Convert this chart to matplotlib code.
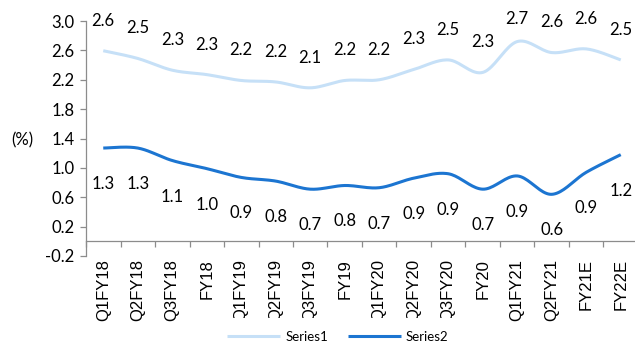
import numpy as np
import matplotlib
matplotlib.use("Agg")
import matplotlib.pyplot as plt
from matplotlib.transforms import Bbox

periods = ["Q1FY18", "Q2FY18", "Q3FY18", "FY18", "Q1FY19", "Q2FY19", "Q3FY19", "FY19",
           "Q1FY20", "Q2FY20", "Q3FY20", "FY20", "Q1FY21", "Q2FY21", "FY21E", "FY22E"]
series1 = [2.595, 2.49, 2.33, 2.27, 2.19, 2.17, 2.09, 2.19,
           2.20, 2.34, 2.47, 2.30, 2.72, 2.57, 2.62, 2.47]
series2 = [1.27, 1.27, 1.10, 0.99, 0.87, 0.82, 0.71, 0.76,
           0.73, 0.86, 0.92, 0.71, 0.89, 0.64, 0.94, 1.18]
yticks = [-0.2, 0.2, 0.6, 1.0, 1.4, 1.8, 2.2, 2.6, 3.0]

c1 = "#C6E0F7"
c2 = "#1C75D1"
num_font = "Lato"
cat_font = "Liberation Sans"


def smooth(xs, ys, n=20):
    # bezier smoothing through the points, like a spreadsheet "smoothed line"
    xs = np.asarray(xs, float)
    ys = np.asarray(ys, float)
    px = np.concatenate([[xs[0]], xs, [xs[-1]]])
    py = np.concatenate([[ys[0]], ys, [ys[-1]]])
    out_x, out_y = [], []
    t = np.linspace(0, 1, n, endpoint=False)
    for i in range(1, len(px) - 2):
        p0 = np.array([px[i], py[i]])
        p3 = np.array([px[i + 1], py[i + 1]])
        k1 = p0 + (np.array([px[i + 1], py[i + 1]]) - np.array([px[i - 1], py[i - 1]])) / 6
        k2 = p3 - (np.array([px[i + 2], py[i + 2]]) - np.array([px[i], py[i]])) / 6
        b = ((1 - t) ** 3)[:, None] * p0 + (3 * (1 - t) ** 2 * t)[:, None] * k1 \
            + (3 * (1 - t) * t ** 2)[:, None] * k2 + (t ** 3)[:, None] * p3
        out_x.extend(b[:, 0])
        out_y.extend(b[:, 1])
    out_x.append(xs[-1])
    out_y.append(ys[-1])
    return out_x, out_y


fig = plt.figure(figsize=(6.35, 3.43), dpi=100)
ax = fig.add_axes([86 / 635, 1 - 256 / 343, 552 / 635, 235 / 343])

# spine position first: moving it resets the ticks
for s in ["top", "right"]:
    ax.spines[s].set_visible(False)
ax.spines["bottom"].set_position(("data", 0))
for s in ["left", "bottom"]:
    ax.spines[s].set_color("#8C8C8C")
    ax.spines[s].set_linewidth(0.9)

x = np.arange(len(periods))
sx, sy = smooth(x, series1)
ax.plot(sx, sy, color=c1, lw=2.2, label="Series1", solid_capstyle="butt")
sx, sy = smooth(x, series2)
ax.plot(sx, sy, color=c2, lw=2.2, label="Series2", solid_capstyle="butt")

for i, v in enumerate(series1):
    ax.text(i, min(v + 0.41, 3.03), f"{v:.1f}", ha="center", va="center",
            fontsize=12, family=num_font, color="black", clip_on=False)
for i, v in enumerate(series2):
    ax.text(i, v - 0.49, f"{v:.1f}", ha="center", va="center",
            fontsize=12, family=num_font, color="black", clip_on=False)

ax.set_xlim(-0.5, len(periods) - 0.5)
ax.set_ylim(-0.2, 3.0)
ax.set_yticks(yticks)
ax.set_yticklabels([f"{t:.1f}" for t in yticks], fontsize=12, family=num_font)

ax.set_xticks(x)
ax.set_xticklabels(periods, rotation=90, fontsize=12, family=cat_font)
ax.set_xticks(np.arange(len(periods) + 1) - 0.5, minor=True)
ax.tick_params(axis="x", which="major", length=0, pad=13)
ax.tick_params(axis="x", which="minor", length=4.3, color="#8C8C8C", width=0.9, direction="out")
ax.tick_params(axis="y", length=4.3, color="#8C8C8C", width=0.9, pad=4)

# long category names get cut at the bottom of the label area
clip = Bbox.from_extents(0, 343 - 318, 635, 343)
for i, lab in enumerate(ax.get_xticklabels()):
    if i in (4, 5, 6, 8, 9, 10):
        lab.set_clip_box(clip)
        lab.set_clip_on(True)

fig.text(11 / 635, 1 - 140 / 343, "(%)", ha="left", va="center",
         fontsize=12, family=num_font)

fig.legend(loc="center", bbox_to_anchor=(338 / 635, 1 - 337 / 343), ncol=2,
           frameon=False, prop={"family": num_font, "size": 9.5},
           handlelength=4.0, columnspacing=1.5, handletextpad=0.4)

fig.savefig("out.png", dpi=100)
